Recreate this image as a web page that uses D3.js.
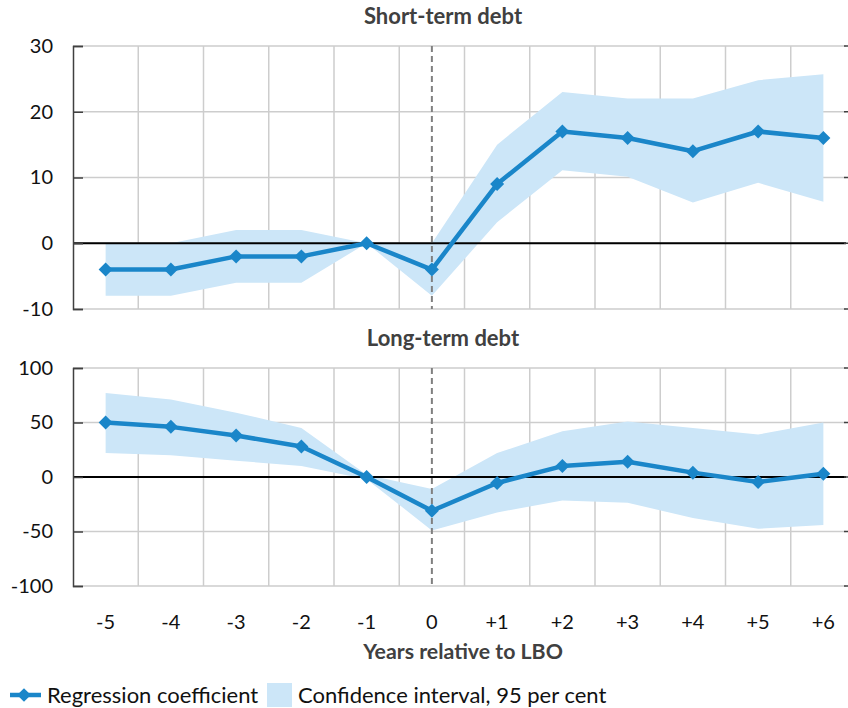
<!DOCTYPE html>
<html>
<head>
<meta charset="utf-8">
<script src="https://cdn.jsdelivr.net/npm/d3@7"></script>
<style>
  html, body { margin: 0; padding: 0; background: #fff; }
  svg { display: block; }
  text { font-family: Lato, "Open Sans", sans-serif; }
</style>
</head>
<body>
<svg id="chart" width="848" height="708"></svg>
<script>
// Years relative to the LBO
const years = ["-5", "-4", "-3", "-2", "-1", "0", "+1", "+2", "+3", "+4", "+5", "+6"];

// Short-term debt: coefficient and 95% band
const shortCoef  = [-4, -4, -2, -2, 0, -4, 9, 17, 16, 14, 17, 16];
const shortUpper = [0, 0, 2, 2, 0, 0, 15, 23, 22, 22, 24.8, 25.7];
const shortLower = [-8, -8, -6, -6, 0, -8, 3.2, 11.1, 10.1, 6.2, 9.2, 6.3];
const shortTicks = [30, 20, 10, 0, -10];

// Long-term debt: coefficient and 95% band
const longCoef  = [50, 46, 38, 28, 0, -31, -5.5, 10, 14, 4, -4.5, 3];
const longUpper = [77, 71, 59, 45, 2, -11, 22, 42, 51, 45, 39, 50];
const longLower = [22, 20, 15, 10, -2, -49, -32.5, -21.6, -23.7, -37.5, -47.5, -44];
const longTicks = [100, 50, 0, -50, -100];

const titles = ["Short-term debt", "Long-term debt"];
const xTitle = "Years relative to LBO";
const legendLine = "Regression coefficient";
const legendBand = "Confidence interval, 95 per cent";

const lineColor = "#1a86c9";
const bandColor = "#cce6f8";
const gridColor = "#cdcdcd";

const svg = d3.select("#chart");
const left = 73, right = 846;

const x = d3.scaleBand().domain(years).range([left, 856]).padding(0);
const cx = d => x(d) + x.bandwidth() / 2;

const panels = [
  { title: titles[0], coef: shortCoef, up: shortUpper, lo: shortLower, ticks: shortTicks,
    domain: [-10, 30], top: 46, bottom: 309, titleY: 24 },
  { title: titles[1], coef: longCoef, up: longUpper, lo: longLower, ticks: longTicks,
    domain: [-100, 100], top: 368, bottom: 586, titleY: 346 }
];

svg.append("defs").append("clipPath").attr("id", "plotclip")
  .append("rect").attr("x", left).attr("y", 0).attr("width", right - left).attr("height", 708);

panels.forEach(p => {
  const y = d3.scaleLinear().domain(p.domain).range([p.bottom, p.top]);
  const g = svg.append("g");

  // panel title
  g.append("text").attr("x", 443).attr("y", p.titleY)
    .attr("text-anchor", "middle").attr("font-size", 22).attr("font-weight", 700)
    .attr("fill", "#404040").text(p.title);

  // horizontal gridlines
  g.selectAll(".hg").data(p.ticks).join("line")
    .attr("x1", left).attr("x2", right)
    .attr("y1", d => y(d)).attr("y2", d => y(d))
    .attr("stroke", gridColor).attr("stroke-width", 1.5);

  // vertical gridlines between categories
  g.selectAll(".vg").data(years.slice(1)).join("line")
    .attr("x1", d => x(d)).attr("x2", d => x(d))
    .attr("y1", p.top).attr("y2", p.bottom)
    .attr("stroke", gridColor).attr("stroke-width", 1.5);

  const plot = g.append("g").attr("clip-path", "url(#plotclip)");

  // confidence band
  const area = d3.area()
    .x((d, i) => cx(years[i]))
    .y0((d, i) => y(p.lo[i]))
    .y1((d, i) => y(p.up[i]));
  plot.append("path").datum(years).attr("d", area).attr("fill", bandColor);

  // zero line
  plot.append("line").attr("x1", left).attr("x2", right)
    .attr("y1", y(0)).attr("y2", y(0)).attr("stroke", "#000").attr("stroke-width", 2);

  // event line at year 0
  plot.append("line").attr("x1", cx("0")).attr("x2", cx("0"))
    .attr("y1", p.top).attr("y2", p.bottom)
    .attr("stroke", "#808080").attr("stroke-width", 2).attr("stroke-dasharray", "6,4");

  // coefficient line
  const line = d3.line().x((d, i) => cx(years[i])).y(d => y(d));
  plot.append("path").datum(p.coef).attr("d", line)
    .attr("fill", "none").attr("stroke", lineColor).attr("stroke-width", 4.5)
    .attr("stroke-linejoin", "round");

  // diamond markers
  const diamond = d3.symbol().type(d3.symbolDiamond2).size(125);
  plot.selectAll(".mk").data(p.coef).join("path")
    .attr("d", diamond)
    .attr("transform", (d, i) => `translate(${cx(years[i])},${y(d)})`)
    .attr("fill", lineColor);

  // left axis
  const axis = d3.axisLeft(y).tickValues(p.ticks).tickSize(-10).tickPadding(20)
    .tickFormat(d => String(d));
  const ag = g.append("g").attr("transform", `translate(${left},0)`).call(axis);
  ag.select(".domain").attr("stroke", "#404040").attr("stroke-width", 1.5);
  ag.selectAll(".tick line").attr("stroke", "#404040").attr("stroke-width", 1.5);
  ag.selectAll(".tick text").attr("font-size", 20).attr("fill", "#111")
    .attr("font-family", "Lato, 'Open Sans', sans-serif");

  // small ticks at the right edge
  g.selectAll(".rt").data(p.ticks).join("line")
    .attr("x1", right - 2).attr("x2", right + 2)
    .attr("y1", d => y(d)).attr("y2", d => y(d))
    .attr("stroke", "#404040").attr("stroke-width", 1.5);
});

// x labels under the lower panel
svg.append("g").selectAll("text").data(years).join("text")
  .attr("x", d => cx(d)).attr("y", 629)
  .attr("text-anchor", "middle").attr("font-size", 20).attr("fill", "#111")
  .text(d => d);

svg.append("text").attr("x", 463).attr("y", 659)
  .attr("text-anchor", "middle").attr("font-size", 21.3).attr("font-weight", 700)
  .attr("fill", "#404040").text(xTitle);

// legend
const lg = svg.append("g");
lg.append("line").attr("x1", 10).attr("x2", 41).attr("y1", 695).attr("y2", 695)
  .attr("stroke", lineColor).attr("stroke-width", 4.5);
lg.append("path").attr("d", d3.symbol().type(d3.symbolDiamond2).size(120))
  .attr("transform", "translate(24,695)").attr("fill", lineColor);
lg.append("text").attr("x", 47).attr("y", 703).attr("font-size", 22).attr("fill", "#111")
  .text(legendLine);
lg.append("rect").attr("x", 267).attr("y", 683).attr("width", 25).attr("height", 24)
  .attr("fill", bandColor);
lg.append("text").attr("x", 298).attr("y", 703).attr("font-size", 22).attr("fill", "#111")
  .text(legendBand);
</script>
</body>
</html>
